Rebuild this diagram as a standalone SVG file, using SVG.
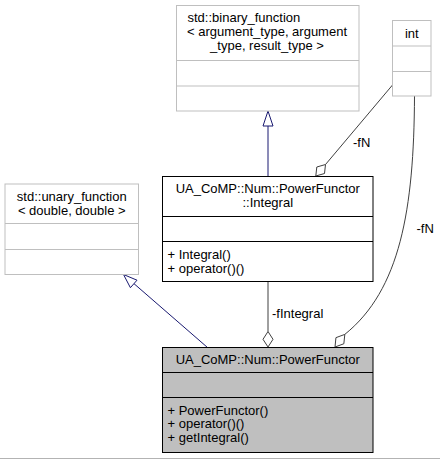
<svg xmlns="http://www.w3.org/2000/svg" width="440" height="459" viewBox="0 0 440 459">
<style>
text{font-family:"Liberation Sans",Arial,Helvetica,sans-serif;font-size:13px;fill:#000}
.c{text-anchor:middle}
.g rect,.g line{fill:#fff;stroke:#bfbfbf;stroke-width:1}
.b rect,.b line{fill:#fff;stroke:#000;stroke-width:1}
.b.cur rect{fill:#bfbfbf}
.inh{fill:none;stroke:#191970;stroke-width:1}
.inhh{fill:#fff;stroke:#191970;stroke-width:1}
.use{fill:none;stroke:#404040;stroke-width:1}
.useh{fill:#fff;stroke:#404040;stroke-width:1}
</style>
<rect x="0" y="0" width="440" height="459" fill="#fff"/>
<line x1="0" y1="458.5" x2="440" y2="458.5" stroke="#b3b3b3" stroke-width="1"/>

<g id="connectors">
  <line class="inh" x1="268" y1="176.5" x2="268" y2="126"/>
  <polygon class="inhh" points="268,111 273,126 263,126"/>
  <line class="inh" x1="207.5" y1="347.5" x2="133.7" y2="283.4"/>
  <polygon class="inhh" points="123.5,274.5 137,280.2 130.4,287.7"/>
  <line class="use" x1="268" y1="281.5" x2="268" y2="331.5"/>
  <polygon class="useh" points="268,331.5 273,339.3 268,347 263,339.3"/>
  <text x="272" y="318">-fIntegral</text>
  <line class="use" x1="392.5" y1="85" x2="325.5" y2="164.5"/>
  <polygon class="useh" points="325.5,164.5 324.5,173.5 315.8,176 316.8,167"/>
  <text x="353" y="147">-fN</text>
  <path class="use" d="M414.5,96 C414,210 400,290 344.8,334.4"/>
  <polygon class="useh" points="344.8,334.4 343.85,343.75 335,347 335.95,337.65"/>
  <text x="416.5" y="233">-fN</text>
</g>

<g id="node-binary_function" class="g">
  <rect x="176.5" y="5.5" width="182.5" height="105.5"/>
  <line x1="176.5" y1="60.5" x2="359" y2="60.5"/>
  <line x1="176.5" y1="86" x2="359" y2="86"/>
  <text x="187.5" y="22">std::binary_function</text>
  <text class="c" x="267" y="36">&lt; argument_type, argument</text>
  <text class="c" x="267" y="50">_type, result_type &gt;</text>
</g>

<g id="node-int" class="g">
  <rect x="392.5" y="20.5" width="38.5" height="75.5"/>
  <line x1="392.5" y1="46" x2="431" y2="46"/>
  <line x1="392.5" y1="71.5" x2="431" y2="71.5"/>
  <text class="c" x="411.75" y="37.5">int</text>
</g>

<g id="node-unary_function" class="g">
  <rect x="5" y="184" width="133.5" height="90.5"/>
  <line x1="5" y1="223.5" x2="138.5" y2="223.5"/>
  <line x1="5" y1="249.5" x2="138.5" y2="249.5"/>
  <text class="c" x="71.75" y="200.5">std::unary_function</text>
  <text class="c" x="71.75" y="214.5">&lt; double, double &gt;</text>
</g>

<g id="node-Integral" class="b">
  <rect x="162.5" y="176.5" width="210.5" height="105"/>
  <line x1="162.5" y1="216.5" x2="373" y2="216.5"/>
  <line x1="162.5" y1="241.5" x2="373" y2="241.5"/>
  <text class="c" x="267.75" y="193">UA_CoMP::Num::PowerFunctor</text>
  <text class="c" x="267.75" y="207">::Integral</text>
  <text x="167.5" y="258.5">+ Integral()</text>
  <text x="167.5" y="272.5">+ operator()()</text>
</g>

<g id="node-PowerFunctor" class="b cur">
  <rect x="162.5" y="347.5" width="210.5" height="105"/>
  <line x1="162.5" y1="372.5" x2="373" y2="372.5"/>
  <line x1="162.5" y1="397.5" x2="373" y2="397.5"/>
  <text class="c" x="267.75" y="364">UA_CoMP::Num::PowerFunctor</text>
  <text x="167.5" y="414.5">+ PowerFunctor()</text>
  <text x="167.5" y="428">+ operator()()</text>
  <text x="167.5" y="441.5">+ getIntegral()</text>
</g>
</svg>
